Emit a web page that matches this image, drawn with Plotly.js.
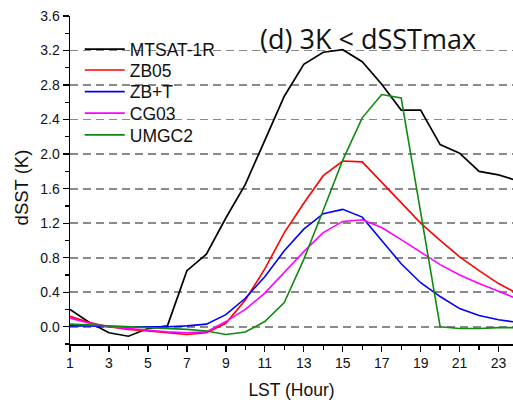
<!DOCTYPE html>
<html>
<head>
<meta charset="utf-8">
<script src="https://cdn.plot.ly/plotly-3.0.1.min.js"></script>
<style>
  html, body { margin: 0; padding: 0; background: #fff; overflow: hidden; }
  #chart { width: 513px; height: 400px; }
</style>
</head>
<body>
<div id="chart"></div>
<script>
// Local solar time (hour of day)
const hours = [1, 2, 3, 4, 5, 6, 7, 8, 9, 10, 11, 12, 13, 14, 15, 16, 17, 18, 19, 20, 21, 22, 23, 24];

// Diurnal SST warming (K), observed and modelled
const mtsat = [0.20, 0.05, -0.07, -0.11, -0.02, 0.01, 0.65, 0.84, 1.26, 1.65, 2.16, 2.67, 3.04, 3.18, 3.21, 3.07, 2.81, 2.51, 2.51, 2.11, 2.01, 1.80, 1.76, 1.69];
const zb05  = [0.12, 0.05, 0.00, -0.03, -0.05, -0.07, -0.09, -0.07, 0.04, 0.31, 0.67, 1.09, 1.43, 1.75, 1.92, 1.91, 1.67, 1.43, 1.20, 1.00, 0.81, 0.65, 0.50, 0.38];
const zbt   = [0.01, 0.01, 0.00, 0.00, 0.00, 0.00, 0.01, 0.03, 0.14, 0.33, 0.58, 0.88, 1.13, 1.31, 1.36, 1.27, 1.00, 0.73, 0.51, 0.35, 0.21, 0.13, 0.08, 0.05];
const cg03  = [0.10, 0.04, 0.00, -0.02, -0.04, -0.06, -0.07, -0.06, 0.06, 0.20, 0.39, 0.63, 0.87, 1.09, 1.22, 1.24, 1.15, 1.01, 0.86, 0.72, 0.60, 0.50, 0.41, 0.32];
const umgc2 = [0.03, 0.02, 0.01, 0.00, -0.01, -0.02, -0.03, -0.05, -0.09, -0.06, 0.06, 0.28, 0.78, 1.35, 1.93, 2.42, 2.69, 2.65, 1.32, 0.00, -0.02, -0.02, -0.01, -0.01];

const seriesNames  = ['MTSAT-1R', 'ZB05', 'ZB+T', 'CG03', 'UMGC2'];
const seriesValues = [mtsat, zb05, zbt, cg03, umgc2];
const seriesColors = ['#000000', '#ff0000', '#0000ff', '#ff00ff', '#108a10'];

const yTickVals = [0.0, 0.4, 0.8, 1.2, 1.6, 2.0, 2.4, 2.8, 3.2, 3.6];
const yTickText = ['0.0', '0.4', '0.8', '1.2', '1.6', '2.0', '2.4', '2.8', '3.2', '3.6'];
const xTickVals = [1, 3, 5, 7, 9, 11, 13, 15, 17, 19, 21, 23];

// One legend per series so the rows sit on a tight, even pitch
const legendIds = ['legend', 'legend2', 'legend3', 'legend4', 'legend5'];
const legendRowY = [0.8985, 0.8348, 0.7692, 0.7034, 0.6372];

const traces = seriesNames.map((name, i) => ({
  type: 'scatter',
  mode: 'lines',
  name: name,
  legend: legendIds[i],
  x: hours,
  y: seriesValues[i],
  line: { color: seriesColors[i], width: i === 0 ? 1.7 : 1.6 },
  hoverinfo: 'skip'
}));

const fontFamily = 'Liberation Sans, Arial, sans-serif';
const tickFont = { family: fontFamily, size: 14, color: '#111' };

const layout = {
  width: 513,
  height: 400,
  margin: { l: 70, r: 0, t: 16, b: 56 },
  paper_bgcolor: '#ffffff',
  plot_bgcolor: '#ffffff',
  showlegend: true,
  xaxis: {
    range: [1, 23.74],
    tickmode: 'array',
    tickvals: xTickVals,
    ticks: 'outside',
    ticklen: 6,
    tickwidth: 1.3,
    tickcolor: '#000',
    minor: { dtick: 1, tick0: 1, ticks: 'outside', ticklen: 4, tickwidth: 1.3, tickcolor: '#000', showgrid: false },
    showline: true,
    linecolor: '#000',
    linewidth: 1.5,
    showgrid: false,
    zeroline: false,
    tickfont: tickFont,
    title: { text: 'LST (Hour)', font: { family: fontFamily, size: 17.5, color: '#111' }, standoff: 13 }
  },
  xaxis2: {
    matches: 'x',
    overlaying: 'x',
    anchor: 'y',
    side: 'top',
    range: [1, 23.74],
    dtick: 1,
    tick0: 1,
    ticks: 'inside',
    ticklen: 5,
    tickwidth: 1.3,
    tickcolor: '#000',
    showticklabels: false,
    showline: true,
    linecolor: '#000',
    linewidth: 1.5,
    showgrid: false,
    zeroline: false
  },
  yaxis: {
    range: [-0.2, 3.6],
    tickmode: 'array',
    tickvals: yTickVals,
    ticktext: yTickText,
    ticks: 'outside',
    ticklen: 6,
    tickwidth: 1.3,
    tickcolor: '#000',
    minor: { dtick: 0.2, tick0: 0, ticks: 'outside', ticklen: 4, tickwidth: 1.3, tickcolor: '#000', showgrid: false },
    showline: true,
    linecolor: '#000',
    linewidth: 1.5,
    showgrid: true,
    gridcolor: '#8a8a8a',
    gridwidth: 1.8,
    griddash: '8px,5px',
    zeroline: false,
    tickfont: tickFont
  },
  annotations: [
    {
      // panel caption
      text: '(d) 3K < dSSTmax',
      xref: 'paper', yref: 'paper',
      x: 0.672, y: 0.93,
      xanchor: 'center', yanchor: 'middle',
      showarrow: false,
      font: { family: 'Open Sans, sans-serif', size: 27, color: '#111' }
    },
    {
      // y-axis title
      text: 'dSST (K)',
      xref: 'paper', yref: 'paper',
      x: -0.1095, y: 0.479,
      xanchor: 'center', yanchor: 'middle',
      textangle: -90,
      showarrow: false,
      font: { family: fontFamily, size: 18.5, color: '#111' }
    }
  ]
};

legendIds.forEach((id, i) => {
  layout[id] = {
    x: 0.022, xanchor: 'left',
    y: legendRowY[i], yanchor: 'middle',
    bgcolor: 'rgba(0,0,0,0)',
    borderwidth: 0,
    itemwidth: 40,
    font: { family: fontFamily, size: 17.5, color: '#111' }
  };
});

Plotly.newPlot('chart', traces, layout, { staticPlot: true, displayModeBar: false });
</script>
</body>
</html>
